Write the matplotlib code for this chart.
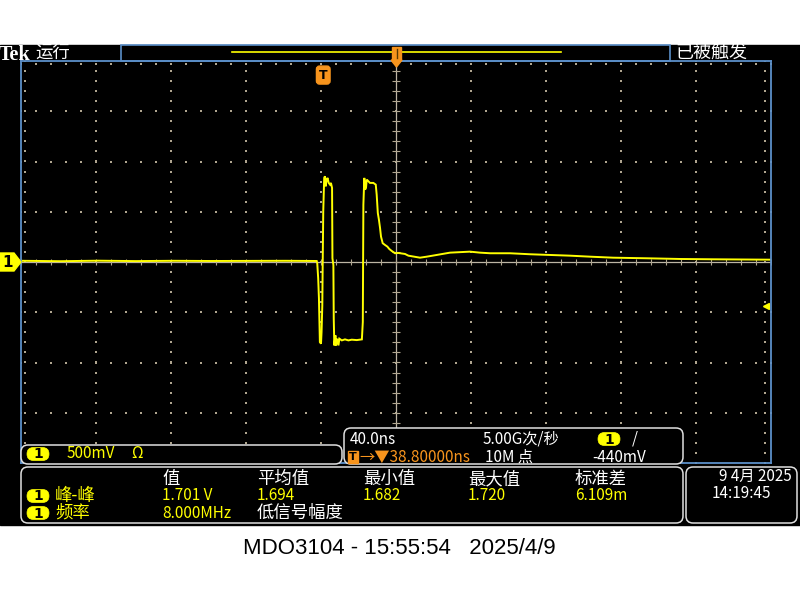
import numpy as np
import matplotlib
matplotlib.use("Agg")
import matplotlib.pyplot as plt
from matplotlib.patches import Rectangle, FancyBboxPatch, Polygon

CJK = ['Noto Sans CJK SC', 'DejaVu Sans']

# scope settings
TIME_DIV = 40.0          # ns / div
VOLT_DIV = 0.5           # V / div
T_CENTER = 38.8          # ns, screen centre relative to trigger
TRIG_LEVEL = -0.44       # V

# channel 1 trace (time in ns from trigger, volts)
trace_t = [-161.2, -140, -120, -100, -80, -60, -40, -20, -3.5, -3.2, -2.7, -2.3,
           -1.8, -1.2, -0.9, -0.5, -0.3, 0.0, 0.5, 0.9, 1.3, 1.8, 2.3, 2.9, 3.6,
           4.1, 4.7, 4.9, 5.4, 5.6, 5.9, 6.5, 6.8, 7.5, 8.1, 8.6, 9.9, 11.6, 13.4,
           15.2, 17.9, 20.6, 21.1, 21.4, 21.9, 22.3, 22.8, 23.2, 24.1, 24.9, 26.7,
           28.0, 28.5, 29.1, 29.7, 30.3, 30.8, 31.7, 32.9, 34.2, 35.2, 36.5, 38.3,
           40.0, 43.6, 45.4, 51.6, 55.2, 60.5, 67.6, 78.3, 83.6, 89.0, 99.6, 110.3,
           120.9, 131.6, 142.3, 154.6, 172.7, 190.4, 208.0, 238.8]
trace_v = [0.012, 0.008, 0.013, 0.009, 0.012, 0.010, 0.011, 0.012, 0.010, -0.013,
           -0.163, -0.363, -0.797, -0.813, -0.697, -0.43, -0.03, 0.503, 0.837, 0.853,
           0.753, 0.82, 0.837, 0.787, 0.77, 0.787, 0.737, 0.037, -0.03, -0.563,
           -0.83, -0.73, -0.83, -0.763, -0.83, -0.763, -0.78, -0.77, -0.78, -0.773,
           -0.777, -0.77, -0.597, 0.57, 0.837, 0.72, 0.737, 0.82, 0.803, 0.787,
           0.787, 0.77, 0.67, 0.487, 0.42, 0.337, 0.253, 0.187, 0.17, 0.153, 0.13,
           0.11, 0.087, 0.09, 0.08, 0.063, 0.043, 0.053, 0.07, 0.093, 0.103, 0.093,
           0.087, 0.087, 0.077, 0.07, 0.063, 0.053, 0.043, 0.037, 0.03, 0.027, 0.023]
assert len(trace_t) == len(trace_v)

# measurement table
meas_headers = ['值', '平均值', '最小值', '最大值', '标准差']
row1_name = '峰-峰'
row1_values = ['1.701 V', '1.694', '1.682', '1.720', '6.109m']
row2_name = '频率'
row2_value = '8.000MHz'
row2_note = '低信号幅度'

BLUE = '#5b8fc9'
YELLOW = '#ffff00'
ORANGE = '#f7941d'
GRIDC = '#b0a690'
BORDER = '#e0e0e0'

fig = plt.figure(figsize=(8, 6), dpi=100)
fig.patch.set_facecolor('white')

# background layer in pixel coords
bg = fig.add_axes([0, 0, 1, 1])
bg.set_xlim(0, 800)
bg.set_ylim(600, 0)
bg.axis('off')
bg.add_patch(Rectangle((0, 45), 800, 480, color='black'))

# top status bar
bg.text(-1, 60.5, 'Tek', color='white', fontsize=14.5, fontweight='bold',
        family='Liberation Serif', va='baseline', ha='left')
bg.text(35, 53, '运行', color='white', fontsize=12.5, family=CJK, va='center')
bg.text(675, 53, '已被触发', color='white', fontsize=13, family=CJK, va='center')
bg.add_patch(Rectangle((121, 45), 549, 16, fill=False, ec=BLUE, lw=1.2))
bg.plot([232, 561], [52, 52], color=YELLOW, lw=1.2)

# waveform graticule
x0, x1 = T_CENTER - 5 * TIME_DIV, T_CENTER + 5 * TIME_DIV
y0, y1 = -4 * VOLT_DIV, 4 * VOLT_DIV
ax = fig.add_axes([21 / 800, 1 - 463 / 600, 750 / 800, 402 / 600])
ax.set_xlim(x0, x1)
ax.set_ylim(y0, y1)
ax.patch.set_visible(False)
ax.set_xticks([])
ax.set_yticks([])
for s in ax.spines.values():
    s.set_color(BLUE)
    s.set_linewidth(1.3)

minor_t = T_CENTER + np.arange(-5 * TIME_DIV, 5 * TIME_DIV + 0.1, TIME_DIV / 5)
minor_v = np.arange(y0, y1 + 0.001, VOLT_DIV / 5)
for k in range(-4, 5):
    if k == 0:
        continue
    xv = T_CENTER + k * TIME_DIV
    ax.scatter(np.full_like(minor_v, xv), minor_v, s=1.2, marker='s', color=GRIDC, lw=0)
for k in range(-3, 4):
    if k == 0:
        continue
    yv = k * VOLT_DIV
    ax.scatter(minor_t, np.full_like(minor_t, yv), s=1.2, marker='s', color=GRIDC, lw=0)

# centre cross with minor ticks
ax.axvline(T_CENTER, color='#bdb5a5', lw=0.9)
ax.axhline(0, color='#bdb5a5', lw=0.9)
ax.plot(minor_t, np.zeros_like(minor_t), ls='none', marker='|', ms=5, mew=0.8, color=GRIDC)
ax.plot(np.full_like(minor_v, T_CENTER), minor_v, ls='none', marker='_', ms=6, mew=0.8, color=GRIDC)
# edge ticks
ax.scatter(minor_t, np.full_like(minor_t, y1 - 0.03), s=1.2, marker='s', color=GRIDC, lw=0)
ax.scatter(np.full_like(minor_v, x1 - 3), minor_v, s=1.2, marker='s', color=GRIDC, lw=0)
ax.scatter(np.full_like(minor_v, x0 + 2), minor_v, s=1.2, marker='s', color=GRIDC, lw=0)

# trace
ax.plot(trace_t, trace_v, color=YELLOW, lw=1.4, solid_joinstyle='miter')

# trigger level arrow and trigger point marker
ax.plot([x1 - 2.5], [TRIG_LEVEL], marker='<', ms=5, color=YELLOW, clip_on=False)
ax.text(0, 1.86, 'T', color='black', fontsize=9, fontweight='bold', ha='center', va='center',
        bbox=dict(boxstyle='round,pad=0.2,rounding_size=0.25', fc=ORANGE, ec=ORANGE))

# overlay for markers and readouts
ov = fig.add_axes([0, 0, 1, 1])
ov.set_xlim(0, 800)
ov.set_ylim(600, 0)
ov.axis('off')

# horizontal position marker at top
ov.add_patch(Rectangle((392, 47), 9, 13, color=ORANGE))
ov.add_patch(Polygon([[391, 60], [402, 60], [396.5, 67]], color=ORANGE))
ov.plot([396.5, 396.5], [49, 58], color='#5a3a00', lw=1)

# channel 1 ground marker
ov.add_patch(Polygon([[0, 253], [14, 253], [21, 262], [14, 271], [0, 271]], color=YELLOW))
ov.text(8, 262.5, '1', color='black', fontsize=11, fontweight='bold', ha='center', va='center')


def box(x, y, w, h, r=7):
    ov.add_patch(FancyBboxPatch((x, y), w, h, boxstyle=f'round,pad=0,rounding_size={r}',
                                fc='black', ec=BORDER, lw=1.1))


def pill(x, y):
    ov.add_patch(FancyBboxPatch((x - 11, y - 6.5), 22, 13, boxstyle='round,pad=0,rounding_size=6.5',
                                fc=YELLOW, ec=YELLOW, lw=0.5))
    ov.text(x, y + 0.5, '1', color='black', fontsize=10, fontweight='bold', ha='center', va='center')


# vertical scale box
box(21, 445, 321, 19)
pill(38, 454)
ov.text(67, 454, '500mV', color=YELLOW, fontsize=11, family=CJK, va='center')
ov.text(131, 454, 'Ω', color=YELLOW, fontsize=11, family=CJK, va='center')

# horizontal / trigger box
box(344, 428, 339, 36)
ov.text(350, 439, '40.0ns', color='white', fontsize=11, family=CJK, va='center')
ov.add_patch(Rectangle((348, 451), 10, 12, color=ORANGE))
ov.text(353, 457, 'T', color='black', fontsize=8, fontweight='bold', ha='center', va='center')
ov.text(359, 457, '→▼38.80000ns', color=ORANGE, fontsize=11, family=CJK, va='center')
ov.text(483, 439, '5.00G次/秒', color='white', fontsize=11, family=CJK, va='center')
ov.text(485, 457, '10M 点', color='white', fontsize=11, family=CJK, va='center')
pill(609, 439)
ov.text(632, 439, '/', color='white', fontsize=11, family=CJK, va='center')
ov.text(592, 457, '-440mV', color='white', fontsize=11, family=CJK, va='center')

# measurement box
box(21, 467, 662, 56)
head_x = [162, 257, 363, 468, 575]
for hx, h in zip(head_x, meas_headers):
    ov.text(hx, 479, h, color='white', fontsize=12.5, family=CJK, va='center')
pill(38, 496)
ov.text(55, 496, row1_name, color=YELLOW, fontsize=12.5, family=CJK, va='center')
for hx, v in zip(head_x, row1_values):
    ov.text(hx, 496, v, color=YELLOW, fontsize=11, family=CJK, va='center')
pill(38, 513)
ov.text(55, 513, row2_name, color=YELLOW, fontsize=12.5, family=CJK, va='center')
ov.text(162, 513, row2_value, color=YELLOW, fontsize=11, family=CJK, va='center')
ov.text(257, 513, row2_note, color='white', fontsize=12.5, family=CJK, va='center')

# date box
box(686, 467, 111, 56)
ov.text(792, 476, '9 4月 2025', color='white', fontsize=11, family=CJK, va='center', ha='right')
ov.text(712, 493, '14:19:45', color='white', fontsize=11, family=CJK, va='center')

# caption
ov.text(399, 548, 'MDO3104 - 15:55:54   2025/4/9', color='black', fontsize=16,
        family='Liberation Sans', ha='center', va='center')

fig.savefig('out.png', dpi=100, facecolor='white')
